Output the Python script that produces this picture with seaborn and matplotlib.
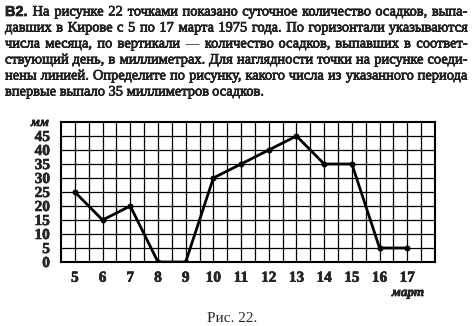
import matplotlib
matplotlib.use("Agg")
import matplotlib.pyplot as plt
import matplotlib.patheffects as pe
import seaborn as sns
import pandas as pd
import numpy as np
from matplotlib.transforms import IdentityTransform

# ---- data ----
days = [5, 6, 7, 8, 9, 10, 11, 12, 13, 14, 15, 16, 17]
precip_mm = [25, 15, 20, 0, 0, 30, 35, 40, 45, 35, 35, 5, 5]
y_ticks = [0, 5, 10, 15, 20, 25, 30, 35, 40, 45]
x_ticks = days

para_lines = [
    "В2. На рисунке 22 точками показано суточное количество осадков, выпа-",
    "давших в Кирове с 5 по 17 марта 1975 года. По горизонтали указываются",
    "числа месяца, по вертикали — количество осадков, выпавших в соответ-",
    "ствующий день, в миллиметрах. Для наглядности точки на рисунке соеди-",
    "нены линией. Определите по рисунку, какого числа из указанного периода",
    "впервые выпало 35 миллиметров осадков.",
]
caption = "Рис. 22."
y_unit = "мм"
x_unit = "март"

sns.set_theme(style="white")
plt.rcParams["font.family"] = ["Liberation Serif", "DejaVu Serif"]

W, H = 472, 326
fig = plt.figure(figsize=(W / 100, H / 100), dpi=100)
fig.patch.set_facecolor("white")

ax = fig.add_axes([61 / W, (H - 262) / H, (435 - 61) / W, (262 - 122) / H])
df = pd.DataFrame({"day": days, "mm": precip_mm})
sns.lineplot(data=df, x="day", y="mm", ax=ax, color="black", linewidth=2.0,
             marker="o", markersize=3.5, markeredgecolor="black", zorder=5)

ax.set_xlim(4.5, 18)
ax.set_ylim(0, 50)
for xv in np.arange(5, 18, 0.5):
    ax.axvline(xv, color="black", linewidth=0.9, zorder=1)
for yv in range(5, 50, 5):
    ax.axhline(yv, color="black", linewidth=0.9, zorder=1)
for s in ax.spines.values():
    s.set_color("black")
    s.set_linewidth(1.5)

label_fx = [pe.withStroke(linewidth=0.4, foreground="black")]
ax.set_xticks(x_ticks)
ax.set_xticklabels([str(d) for d in x_ticks], fontsize=11, fontweight="bold",
                   path_effects=label_fx)
ax.set_yticks(y_ticks)
ax.set_yticklabels([str(v) for v in y_ticks], fontsize=11, fontweight="bold",
                   path_effects=label_fx)
ax.tick_params(axis="x", direction="out", length=4, width=1.2, color="black", pad=3)
ax.tick_params(axis="y", direction="out", length=4, width=1.2, color="black", pad=4)
ax.set_xlabel("")
ax.set_ylabel("")
ax.grid(False)

fig.text(40 / W, 1 - 123 / H, y_unit, fontsize=9.5, style="italic",
         fontweight="bold", ha="center", va="center", path_effects=label_fx)
fig.text(408 / W, 1 - 293 / H, x_unit, fontsize=9.5, style="italic",
         fontweight="bold", ha="center", va="center", path_effects=label_fx)
fig.text(232 / W, 1 - 319 / H, caption, fontsize=11, ha="center", va="center")

# ---- justified paragraph ----
left_px, right_px = 5, 467
centers = [12, 28, 44, 60, 76, 92]
stroke = [pe.withStroke(linewidth=0.45, foreground="black")]
lines_arts = []
for i, line in enumerate(para_lines):
    words = line.split(" ")
    arts = []
    for j, w in enumerate(words):
        bold = (i == 0 and j == 0)
        kw = dict(fontsize=11, fontweight="bold" if bold else "normal",
                  va="center", ha="left", transform=IdentityTransform(),
                  path_effects=stroke)
        if bold:
            kw["family"] = ["Liberation Sans"]
        arts.append(fig.text(left_px, H - centers[i], w, **kw))
    lines_arts.append(arts)

fig.canvas.draw()
renderer = fig.canvas.get_renderer()


def gaps_for(fs):
    out = []
    for i, arts in enumerate(lines_arts):
        for a in arts:
            a.set_fontsize(fs)
        widths = [a.get_window_extent(renderer).width for a in arts]
        if i < len(lines_arts) - 1:
            out.append(((right_px - left_px - sum(widths)) / (len(arts) - 1), widths))
        else:
            out.append((4.0, widths))
    return out


fs = 11.0
while fs > 8:
    res = gaps_for(fs)
    if min(g for g, _ in res[:-1]) >= 3.8:
        break
    fs -= 0.1

for i, (arts, (gap, widths)) in enumerate(zip(lines_arts, res)):
    x = left_px
    for a, wd in zip(arts, widths):
        a.set_position((x, H - centers[i]))
        x += wd + gap

fig.savefig("out.png", dpi=100, facecolor="white")
